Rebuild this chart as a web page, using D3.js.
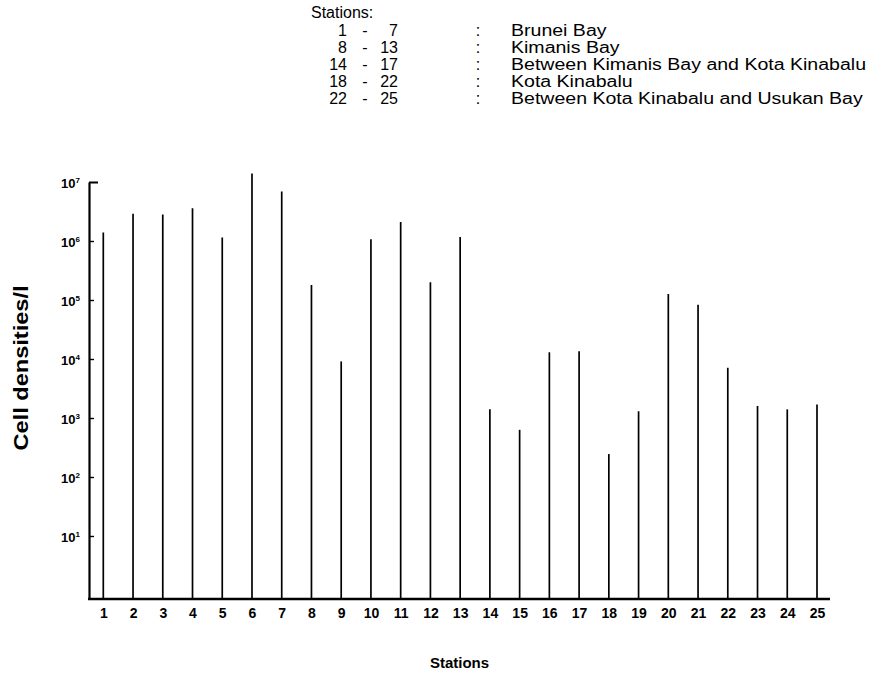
<!DOCTYPE html>
<html>
<head>
<meta charset="utf-8">
<script src="https://cdn.jsdelivr.net/npm/d3@7/dist/d3.min.js"></script>
<style>
  body { margin: 0; background: #fff; }
  text { font-family: "Liberation Sans", Arial, sans-serif; fill: #000; }
</style>
</head>
<body>
<script>
// stations along the coast
var stations = [1, 2, 3, 4, 5, 6, 7, 8, 9, 10, 11, 12, 13,
                14, 15, 16, 17, 18, 19, 20, 21, 22, 23, 24, 25];

// cell densities per litre
var densities = [1.4e6, 2.9e6, 2.8e6, 3.6e6, 1.15e6, 1.4e7, 6.9e6,
                 1.8e5, 9.1e3, 1.07e6, 2.1e6, 2.0e5, 1.17e6,
                 1.4e3, 630, 1.3e4, 1.35e4,
                 245, 1.3e3, 1.26e5, 8.3e4, 7.1e3,
                 1.6e3, 1.4e3, 1.7e3];

var yTicks = [10, 100, 1000, 1e4, 1e5, 1e6, 1e7];
var yTickExp = ["1", "2", "3", "4", "5", "6", "7"];

// legend at the top
var legendFrom = ["1", "8", "14", "18", "22"];
var legendTo = ["7", "13", "17", "22", "25"];
var legendNames = ["Brunei Bay", "Kimanis Bay", "Between Kimanis Bay and Kota Kinabalu",
                   "Kota Kinabalu", "Between Kota Kinabalu and Usukan Bay"];

var vis = {
  width: 875,
  height: 675,
  axisX: 89,
  baseY: 599,
  topY: 182,
  endX: 830,
  legendEnd: 866
};

var svg = d3.select("body").append("svg")
  .attr("width", vis.width)
  .attr("height", vis.height);

var x = d3.scaleLinear().domain([1, 25]).range([103.3, 817]);
var y = d3.scaleLog().domain([0.855, 1e7]).range([vis.baseY, vis.topY]);

// bars (thin vertical lines)
svg.selectAll("line.bar")
  .data(densities)
  .enter()
  .append("line")
  .attr("class", "bar")
  .attr("x1", function(d, i) { return x(stations[i]); })
  .attr("x2", function(d, i) { return x(stations[i]); })
  .attr("y1", vis.baseY)
  .attr("y2", function(d) { return y(d); })
  .attr("stroke", "#000")
  .attr("stroke-width", 1.7);

// y axis
var yAxis = svg.append("g")
  .attr("transform", "translate(" + vis.axisX + ",0)")
  .call(d3.axisLeft(y)
    .tickValues(yTicks)
    .tickSize(-5)
    .tickSizeOuter(0)
    .tickPadding(9)
    .tickFormat(function() { return ""; }));

yAxis.select(".domain").attr("stroke-width", 2.2);
yAxis.selectAll(".tick line").attr("stroke-width", 1.4);
yAxis.selectAll(".tick")
  .filter(function(d) { return d === 1e7; })
  .select("line").attr("x2", 9).attr("stroke-width", 2);

yAxis.selectAll(".tick text")
  .attr("font-size", 13)
  .attr("font-weight", "bold")
  .attr("dy", "0.45em")
  .each(function(d, i) {
    var t = d3.select(this);
    t.append("tspan").text("10");
    t.append("tspan").text(yTickExp[i])
      .attr("font-size", 8)
      .attr("dy", "-0.7em");
  });

// x axis
var xAxis = svg.append("g")
  .attr("transform", "translate(0," + vis.baseY + ")")
  .call(d3.axisBottom(x)
    .tickValues(stations)
    .tickSize(0)
    .tickPadding(9));

xAxis.select(".domain").remove();
xAxis.append("line")
  .attr("x1", vis.axisX - 1)
  .attr("x2", vis.endX)
  .attr("stroke", "#000")
  .attr("stroke-width", 2.4);
xAxis.selectAll(".tick text")
  .attr("font-size", 14)
  .attr("font-weight", "bold");

// axis titles
svg.append("text")
  .attr("transform", "translate(28,368) rotate(-90)")
  .attr("text-anchor", "middle")
  .attr("font-size", 20)
  .attr("font-weight", "bold")
  .attr("textLength", 165)
  .attr("lengthAdjust", "spacingAndGlyphs")
  .text("Cell densities/l");

svg.append("text")
  .attr("x", (vis.axisX + vis.endX) / 2)
  .attr("y", 668)
  .attr("text-anchor", "middle")
  .attr("font-size", 15)
  .attr("font-weight", "bold")
  .text("Stations");

// legend
var legend = svg.append("g").attr("font-size", 16);

legend.append("text")
  .attr("x", 311)
  .attr("y", 18)
  .text("Stations:");

var rows = legend.selectAll("g.row")
  .data(legendNames)
  .enter()
  .append("g")
  .attr("class", "row")
  .attr("transform", function(d, i) { return "translate(0," + (36 + i * 17) + ")"; });

rows.append("text")
  .attr("x", 347)
  .attr("text-anchor", "end")
  .text(function(d, i) { return legendFrom[i]; });
rows.append("text")
  .attr("x", 365)
  .attr("text-anchor", "middle")
  .text("-");
rows.append("text")
  .attr("x", 398)
  .attr("text-anchor", "end")
  .text(function(d, i) { return legendTo[i]; });
rows.append("text")
  .attr("x", 478)
  .attr("text-anchor", "middle")
  .text(":");

var names = rows.append("text")
  .attr("x", 511)
  .text(function(d) { return d; });

// the scanned legend runs wider than the font; stretch all names alike
var longest = d3.max(names.nodes(), function(n) { return n.getComputedTextLength(); });
var stretch = (vis.legendEnd - 511) / longest;
names.each(function() {
  var w = this.getComputedTextLength();
  d3.select(this)
    .attr("textLength", w * stretch)
    .attr("lengthAdjust", "spacingAndGlyphs");
});
</script>
</body>
</html>
